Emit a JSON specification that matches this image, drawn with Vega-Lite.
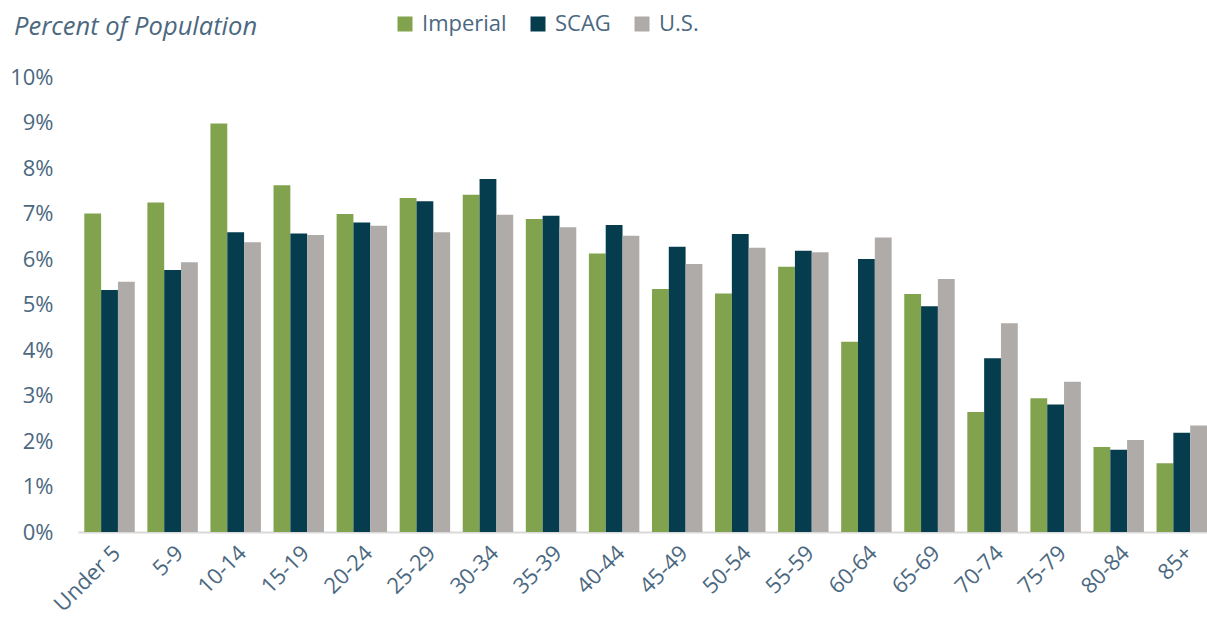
{
  "$schema": "https://vega.github.io/schema/vega-lite/v6.json",
  "autosize": {"type": "none"},
  "padding": {"left": 78, "top": 77, "right": 0, "bottom": 94},
  "width": 1129,
  "height": 455,
  "background": "white",
  "title": {
    "text": "Percent of Population",
    "anchor": "start",
    "frame": "group",
    "fontStyle": "italic",
    "fontWeight": "normal",
    "font": "Open Sans",
    "fontSize": 25.5,
    "color": "#4b6880",
    "dx": -64,
    "dy": 31
  },
  "config": {
    "view": {"stroke": null},
    "font": "Open Sans"
  },
  "data": {
    "values": [
      {"age": "Under 5", "region": "Imperial", "pct": 7.0},
      {"age": "Under 5", "region": "SCAG", "pct": 5.32},
      {"age": "Under 5", "region": "U.S.", "pct": 5.5},
      {"age": "5-9", "region": "Imperial", "pct": 7.24},
      {"age": "5-9", "region": "SCAG", "pct": 5.76},
      {"age": "5-9", "region": "U.S.", "pct": 5.93},
      {"age": "10-14", "region": "Imperial", "pct": 8.98},
      {"age": "10-14", "region": "SCAG", "pct": 6.59},
      {"age": "10-14", "region": "U.S.", "pct": 6.37},
      {"age": "15-19", "region": "Imperial", "pct": 7.62},
      {"age": "15-19", "region": "SCAG", "pct": 6.56},
      {"age": "15-19", "region": "U.S.", "pct": 6.53},
      {"age": "20-24", "region": "Imperial", "pct": 6.99},
      {"age": "20-24", "region": "SCAG", "pct": 6.8},
      {"age": "20-24", "region": "U.S.", "pct": 6.73},
      {"age": "25-29", "region": "Imperial", "pct": 7.34},
      {"age": "25-29", "region": "SCAG", "pct": 7.27},
      {"age": "25-29", "region": "U.S.", "pct": 6.59},
      {"age": "30-34", "region": "Imperial", "pct": 7.41},
      {"age": "30-34", "region": "SCAG", "pct": 7.76},
      {"age": "30-34", "region": "U.S.", "pct": 6.97},
      {"age": "35-39", "region": "Imperial", "pct": 6.88},
      {"age": "35-39", "region": "SCAG", "pct": 6.95},
      {"age": "35-39", "region": "U.S.", "pct": 6.7},
      {"age": "40-44", "region": "Imperial", "pct": 6.12},
      {"age": "40-44", "region": "SCAG", "pct": 6.75},
      {"age": "40-44", "region": "U.S.", "pct": 6.51},
      {"age": "45-49", "region": "Imperial", "pct": 5.34},
      {"age": "45-49", "region": "SCAG", "pct": 6.27},
      {"age": "45-49", "region": "U.S.", "pct": 5.89},
      {"age": "50-54", "region": "Imperial", "pct": 5.24},
      {"age": "50-54", "region": "SCAG", "pct": 6.55},
      {"age": "50-54", "region": "U.S.", "pct": 6.25},
      {"age": "55-59", "region": "Imperial", "pct": 5.83},
      {"age": "55-59", "region": "SCAG", "pct": 6.18},
      {"age": "55-59", "region": "U.S.", "pct": 6.15},
      {"age": "60-64", "region": "Imperial", "pct": 4.18},
      {"age": "60-64", "region": "SCAG", "pct": 6.0},
      {"age": "60-64", "region": "U.S.", "pct": 6.47},
      {"age": "65-69", "region": "Imperial", "pct": 5.23},
      {"age": "65-69", "region": "SCAG", "pct": 4.96},
      {"age": "65-69", "region": "U.S.", "pct": 5.56},
      {"age": "70-74", "region": "Imperial", "pct": 2.64},
      {"age": "70-74", "region": "SCAG", "pct": 3.82},
      {"age": "70-74", "region": "U.S.", "pct": 4.59},
      {"age": "75-79", "region": "Imperial", "pct": 2.94},
      {"age": "75-79", "region": "SCAG", "pct": 2.8},
      {"age": "75-79", "region": "U.S.", "pct": 3.3},
      {"age": "80-84", "region": "Imperial", "pct": 1.87},
      {"age": "80-84", "region": "SCAG", "pct": 1.81},
      {"age": "80-84", "region": "U.S.", "pct": 2.02},
      {"age": "85+", "region": "Imperial", "pct": 1.51},
      {"age": "85+", "region": "SCAG", "pct": 2.18},
      {"age": "85+", "region": "U.S.", "pct": 2.34}
    ]
  },
  "mark": {"type": "bar"},
  "encoding": {
    "x": {
      "field": "age",
      "type": "nominal",
      "sort": null,
      "scale": {"paddingInner": 0.2, "paddingOuter": 0.05, "align": 1},
      "axis": {
        "title": null,
        "labelAngle": -45,
        "labelFontSize": 22,
        "labelColor": "#4b6880",
        "labelFont": "Open Sans",
        "ticks": false,
        "domainColor": "#d9d9d9",
        "domainWidth": 2,
        "labelPadding": 10
      }
    },
    "xOffset": {
      "field": "region",
      "type": "nominal",
      "sort": ["Imperial", "SCAG", "U.S."]
    },
    "y": {
      "field": "pct",
      "type": "quantitative",
      "scale": {"domain": [0, 10], "nice": false},
      "axis": {
        "title": null,
        "values": [0, 1, 2, 3, 4, 5, 6, 7, 8, 9, 10],
        "labelExpr": "datum.value + '%'",
        "labelFontSize": 22,
        "labelColor": "#4b6880",
        "labelFont": "Open Sans",
        "domain": false,
        "ticks": false,
        "grid": false,
        "labelPadding": 25
      }
    },
    "color": {
      "field": "region",
      "type": "nominal",
      "scale": {
        "domain": ["Imperial", "SCAG", "U.S."],
        "range": ["#82a34d", "#053d4e", "#afaba9"]
      },
      "legend": {
        "title": null,
        "orient": "none",
        "direction": "horizontal",
        "legendX": 316,
        "legendY": -64,
        "symbolType": "square",
        "symbolSize": 225,
        "symbolStrokeWidth": 0,
        "labelFontSize": 22,
        "labelColor": "#4b6880",
        "labelFont": "Open Sans",
        "labelOffset": 6,
        "columnPadding": 20
      }
    }
  }
}
